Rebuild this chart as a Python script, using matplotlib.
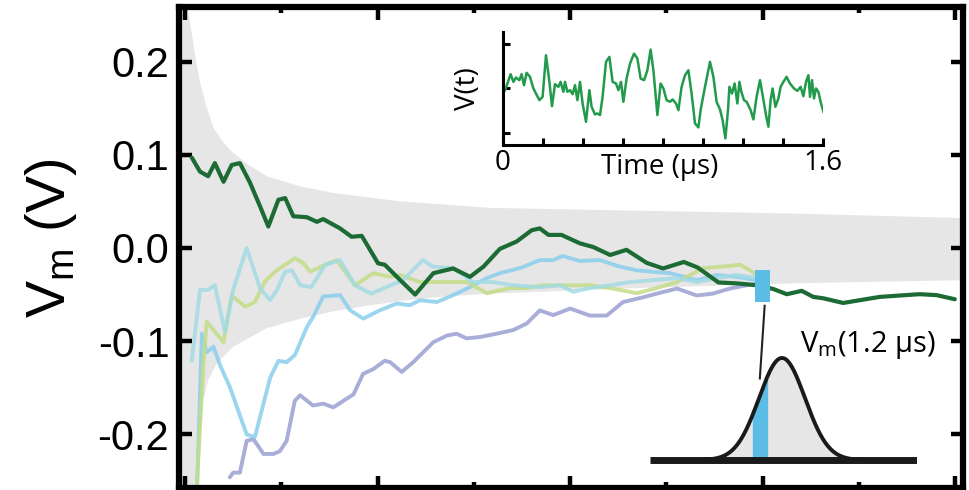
import numpy as np
import matplotlib
matplotlib.use("Agg")
import matplotlib.pyplot as plt
from matplotlib.patches import Rectangle

plt.rcParams['mathtext.fontset'] = 'custom'
plt.rcParams['mathtext.rm'] = 'Liberation Sans'
plt.rcParams['mathtext.sf'] = 'Open Sans'

# ---- running mean V_m(t) of several realisations (time in µs, voltage in V) ----
t_dark = [0.014, 0.031, 0.048, 0.062, 0.080, 0.097, 0.114, 0.135, 0.156, 0.173, 0.194, 0.208,
          0.225, 0.253, 0.274, 0.287, 0.322, 0.346, 0.367, 0.401, 0.415, 0.447, 0.478, 0.516,
          0.557, 0.592, 0.620, 0.654, 0.689, 0.720, 0.737, 0.755, 0.782, 0.820, 0.848, 0.883,
          0.917, 0.959, 0.993, 1.036, 1.065, 1.108, 1.146, 1.188, 1.222, 1.250, 1.281, 1.305,
          1.326, 1.367, 1.402, 1.443, 1.485, 1.526, 1.561, 1.599]
v_dark = [0.097, 0.082, 0.077, 0.091, 0.071, 0.089, 0.091, 0.070, 0.0445, 0.023, 0.0517, 0.0535,
          0.034, 0.033, 0.028, 0.031, 0.021, 0.012, 0.013, -0.0165, -0.018, -0.0345, -0.0500, -0.027,
          -0.022, -0.031, -0.020, -0.001, 0.007, 0.019, 0.021, 0.014, 0.014, 0.005, 0.001, -0.0075,
          -0.002, -0.016, -0.022, -0.015, -0.021, -0.037, -0.038, -0.040, -0.044, -0.0496, -0.046, -0.0525,
          -0.054, -0.059, -0.056, -0.0525, -0.051, -0.0496, -0.0506, -0.055]

t_lime = [0.024, 0.038, 0.045, 0.062, 0.080, 0.097, 0.125, 0.145, 0.166, 0.187, 0.208, 0.229,
          0.246, 0.260, 0.291, 0.315, 0.353, 0.391, 0.426, 0.447, 0.488, 0.550, 0.586, 0.627,
          0.675, 0.710, 0.744, 0.793, 0.841, 0.883, 0.939, 0.980, 1.022, 1.076, 1.117, 1.153,
          1.173, 1.194]
v_lime = [-0.260, -0.126, -0.079, -0.090, -0.101, -0.051, -0.063, -0.058, -0.036, -0.0255, -0.018, -0.011,
          -0.0165, -0.0255, -0.018, -0.013, -0.040, -0.027, -0.031, -0.029, -0.0366, -0.0366, -0.0366, -0.0485,
          -0.043, -0.043, -0.040, -0.040, -0.040, -0.043, -0.0485, -0.043, -0.0366, -0.0216, -0.020, -0.018,
          -0.024, -0.031]

t_teal = [0.014, 0.031, 0.048, 0.062, 0.083, 0.100, 0.128, 0.156, 0.177, 0.191, 0.208, 0.222,
          0.239, 0.262, 0.291, 0.322, 0.353, 0.387, 0.418, 0.453, 0.494, 0.515, 0.557, 0.598,
          0.640, 0.681, 0.737, 0.779, 0.806, 0.841, 0.883, 0.924, 0.972, 1.022, 1.063, 1.105,
          1.146, 1.188]
v_teal = [-0.121, -0.045, -0.045, -0.040, -0.090, -0.045, 0.000, -0.0435, -0.056, -0.045, -0.0255, -0.024,
          -0.040, -0.042, -0.018, -0.013, -0.040, -0.049, -0.042, -0.0345, -0.013, -0.020, -0.0216, -0.0366,
          -0.0366, -0.040, -0.042, -0.040, -0.047, -0.043, -0.040, -0.0366, -0.0345, -0.0323, -0.0366, -0.0323,
          -0.029, -0.0323]

t_sky = [0.025, 0.035, 0.045, 0.059, 0.073, 0.093, 0.128, 0.145, 0.177, 0.194, 0.211, 0.228,
         0.253, 0.266, 0.287, 0.322, 0.343, 0.370, 0.405, 0.440, 0.467, 0.488, 0.523, 0.557,
         0.592, 0.627, 0.654, 0.696, 0.737, 0.764, 0.785, 0.820, 0.862, 0.903, 0.939, 0.980,
         1.007, 1.063, 1.105, 1.146, 1.188]
v_sky = [-0.260, -0.092, -0.112, -0.106, -0.126, -0.149, -0.200, -0.203, -0.139, -0.121, -0.1225, -0.115,
         -0.085, -0.074, -0.052, -0.0506, -0.0668, -0.0758, -0.0668, -0.0596, -0.0614, -0.056, -0.058, -0.0506,
         -0.042, -0.0323, -0.027, -0.0216, -0.013, -0.013, -0.0086, -0.014, -0.013, -0.020, -0.024, -0.026,
         -0.027, -0.0345, -0.029, -0.031, -0.0345]

t_lilac = [0.093, 0.100, 0.114, 0.128, 0.142, 0.163, 0.183, 0.197, 0.211, 0.228, 0.239, 0.266,
           0.287, 0.308, 0.350, 0.370, 0.391, 0.415, 0.426, 0.450, 0.474, 0.516, 0.544, 0.564,
           0.585, 0.613, 0.647, 0.682, 0.710, 0.737, 0.765, 0.800, 0.841, 0.876, 0.910, 0.951,
           0.987, 1.022, 1.063, 1.096, 1.132, 1.167, 1.194]
v_lilac = [-0.246, -0.241, -0.241, -0.207, -0.205, -0.221, -0.221, -0.218, -0.207, -0.164, -0.158, -0.169,
           -0.167, -0.171, -0.157, -0.135, -0.130, -0.121, -0.1225, -0.133, -0.1225, -0.101, -0.094, -0.092,
           -0.097, -0.0955, -0.092, -0.088, -0.081, -0.067, -0.072, -0.065, -0.0725, -0.0725, -0.058, -0.053,
           -0.048, -0.0435, -0.051, -0.049, -0.0435, -0.040, -0.038]

# ---- envelope of the expected spread of the running mean ----
band_up_t = [-0.013, 0.004, 0.007, 0.014, 0.021, 0.031, 0.042, 0.059, 0.080, 0.100, 0.135, 0.170,
             0.239, 0.308, 0.447, 0.633, 0.940, 1.257, 1.620]
band_up_v = [0.270, 0.260, 0.253, 0.231, 0.206, 0.178, 0.156, 0.129, 0.113, 0.102, 0.088, 0.077,
             0.066, 0.059, 0.050, 0.043, 0.040, 0.037, 0.032]
band_lo_t = [-0.013, 0.022, 0.031, 0.038, 0.048, 0.066, 0.100, 0.142, 0.170, 0.239, 0.308, 0.377,
             0.447, 0.516, 0.633, 0.940, 1.256, 1.620]
band_lo_v = [-0.270, -0.260, -0.200, -0.164, -0.142, -0.124, -0.106, -0.094, -0.086, -0.076, -0.068, -0.062,
             -0.057, -0.053, -0.049, -0.043, -0.038, -0.0345]

# sampling instant and window highlighted on the traces
t_sample = 1.2
sample_window = (-0.058, -0.024)

y_ticks = [0.2, 0.1, 0.0, -0.1, -0.2]
y_tick_labels = ['0.2', '0.1', '0.0', '-0.1', '-0.2']
x_major = [0.0, 0.4, 0.8, 1.2, 1.6]
x_minor = [0.2, 0.6, 1.0, 1.4]

# ---- single raw voltage record V(t) ----
t_raw = [0.010, 0.022, 0.038, 0.052, 0.065, 0.082, 0.093, 0.105, 0.118, 0.135, 0.152, 0.182,
         0.198, 0.215, 0.232, 0.245, 0.260, 0.277, 0.288, 0.302, 0.310, 0.322, 0.335, 0.348,
         0.360, 0.372, 0.385, 0.398, 0.415, 0.432, 0.443, 0.460, 0.472, 0.485, 0.498, 0.515,
         0.532, 0.548, 0.565, 0.577, 0.590, 0.602, 0.618, 0.635, 0.655, 0.672, 0.688, 0.705,
         0.722, 0.738, 0.752, 0.772, 0.788, 0.802, 0.818, 0.835, 0.848, 0.865, 0.877, 0.893,
         0.910, 0.927, 0.943, 0.960, 0.977, 0.988, 1.010, 1.035, 1.052, 1.068, 1.085, 1.098,
         1.112, 1.125, 1.132, 1.145, 1.158, 1.172, 1.182, 1.192, 1.205, 1.218, 1.238, 1.252,
         1.268, 1.285, 1.298, 1.315, 1.327, 1.338, 1.348, 1.362, 1.377, 1.388, 1.402, 1.418,
         1.435, 1.455, 1.472, 1.488, 1.502, 1.515, 1.527, 1.535, 1.545, 1.555, 1.565, 1.577,
         1.588, 1.602]
v_raw = [-0.045, 0.105, 0.315, 0.142, 0.240, 0.180, 0.315, 0.067, 0.345, 0.255, -0.007, -0.270,
         -0.195, 0.742, 0.142, -0.404, 0.090, 0.030, 0.142, -0.082, 0.142, -0.082, -0.045, -0.135,
         0.067, -0.270, 0.142, -0.345, -0.757, -0.045, -0.420, -0.592, -0.569, -0.607, -0.195, 0.592,
         0.704, 0.142, 0.105, -0.045, 0.142, -0.307, 0.217, 0.554, 0.779, 0.667, 0.217, 0.180,
         0.404, 0.869, 0.404, -0.607, 0.105, -0.007, -0.270, -0.307, -0.255, -0.345, -0.494, 0.030,
         0.292, 0.404, -0.120, -0.794, -0.884, -0.494, 0.030, 0.592, 0.255, -0.307, -0.479, -0.719,
         -1.131, -0.494, 0.030, -0.120, 0.105, -0.345, 0.142, -0.082, -0.270, -0.307, -0.494, -0.704,
         -0.195, 0.180, -0.157, -0.607, -0.869, -0.270, -0.007, -0.420, -0.232, 0.030, 0.142, 0.255,
         0.105, -0.007, -0.060, 0.030, -0.180, 0.142, 0.292, -0.195, 0.180, -0.232, -0.007, -0.082,
         -0.307, -0.532]
raw_ticks_x = [0.0, 0.2, 0.4, 0.6, 0.8, 1.0, 1.2, 1.4, 1.6]
raw_tick_labels = ['0', '', '', '', '', '', '', '', '1.6']
raw_ticks_y = [-1, 0, 1]

# ---- distribution of V_m at the sampling instant (units of its std) ----
dist_mean, dist_std = 0.0, 1.0
dist_slice = (-1.30, -0.61)

# colours
c_dark = '#1d6b34'
c_lime = '#c3dd86'
c_teal = '#a3dbe4'
c_sky = '#8bceec'
c_lilac = '#a0a5d5'
c_band = '#e6e6e6'
c_mark = '#5bbde5'
c_raw = '#229a4b'

W, H = 970, 490
fig = plt.figure(figsize=(W / 100, H / 100), dpi=100)


def px_box(x0, y0, x1, y1):
    return [x0 / W, 1 - y1 / H, (x1 - x0) / W, (y1 - y0) / H]


ax = fig.add_axes(px_box(179, 7, 963, 488))
ax.set_xlim(-0.0125, 1.616)
ax.set_ylim(-0.2575, 0.2585)

ax.fill(np.r_[band_up_t, band_lo_t[::-1]], np.r_[band_up_v, band_lo_v[::-1]],
        color=c_band, lw=0, zorder=1)

lw_pale = 2.8
ax.plot(t_lilac, v_lilac, color=c_lilac, lw=lw_pale, alpha=0.9, zorder=2, solid_capstyle='round')
ax.plot(t_sky, v_sky, color=c_sky, lw=lw_pale, alpha=0.85, zorder=3, solid_capstyle='round')
ax.plot(t_lime, v_lime, color=c_lime, lw=lw_pale, alpha=0.85, zorder=3, solid_capstyle='round')
ax.plot(t_teal, v_teal, color=c_teal, lw=lw_pale, alpha=0.85, zorder=4, solid_capstyle='round')
ax.plot(t_dark, v_dark, color=c_dark, lw=3.0, zorder=5, solid_capstyle='round')

ax.add_patch(Rectangle((t_sample - 0.016, sample_window[0]), 0.032,
                       sample_window[1] - sample_window[0], color=c_mark, lw=0, zorder=6))
ax.plot([t_sample + 0.004, t_sample - 0.006], [-0.062, -0.140], color='#222222', lw=1.5, zorder=6)

ax.set_yticks(y_ticks)
ax.set_yticklabels(y_tick_labels, fontfamily='Liberation Sans', fontsize=30)
ax.set_xticks(x_major)
ax.set_xticks(x_minor, minor=True)
ax.tick_params(which='both', direction='in', top=True, right=True, labelbottom=False,
               color='black')
ax.tick_params(which='major', length=9, width=3.2, pad=7)
ax.tick_params(which='minor', length=4.5, width=3.2)
for s in ax.spines.values():
    s.set_linewidth(4.5)
    s.set_zorder(10)

fig.text(51 / W, 1 - 238 / H, 'V$_{\\mathrm{m}}$ (V)', rotation=90, ha='center', va='center',
         fontfamily='Liberation Sans', fontsize=40)

# raw record inset
axr = fig.add_axes(px_box(503, 32, 823, 145))
axr.patch.set_alpha(0)
axr.plot(t_raw, v_raw, color=c_raw, lw=1.8)
axr.set_xlim(0, 1.6)
axr.set_ylim(-1.28, 1.265)
for side in ('top', 'right'):
    axr.spines[side].set_visible(False)
for side in ('left', 'bottom'):
    axr.spines[side].set_linewidth(2.2)
axr.set_xticks(raw_ticks_x)
axr.set_xticklabels(raw_tick_labels, fontfamily='Open Sans', fontsize=20)
axr.set_yticks(raw_ticks_y)
axr.set_yticklabels([])
axr.tick_params(direction='in', length=5, width=2.2, pad=3)
axr.set_xlabel('Time (µs)', fontfamily='Open Sans', fontsize=20)
axr.xaxis.set_label_coords(0.49, -0.07, transform=axr.transAxes)
axr.xaxis.label.set_va('top')
axr.set_ylabel('V(t)', fontfamily='Open Sans', fontsize=20, labelpad=12)

# distribution sketch
axd = fig.add_axes(px_box(650, 340, 917, 470))
axd.set_xlim(-5.74, 5.87)
axd.set_ylim(-0.098, 1.176)
axd.axis('off')
xs = np.linspace(dist_mean - 3.6 * dist_std, dist_mean + 3.6 * dist_std, 400)
ys = np.exp(-0.5 * ((xs - dist_mean) / dist_std) ** 2)
axd.fill_between(xs, 0, ys, color=c_band, lw=0, zorder=1)
sel = (xs >= dist_slice[0]) & (xs <= dist_slice[1])
axd.fill_between(xs[sel], 0, ys[sel], color=c_mark, lw=0, zorder=2)
axd.plot(xs, ys, color='#1a1a1a', lw=2.8, zorder=3)
axd.plot([-5.74, 5.87], [0, 0], color='#1a1a1a', lw=5, zorder=4, solid_capstyle='butt')

ax.text(1.277, -0.112, 'V$_{\\mathsf{m}}$(1.2 µs)', fontfamily='Open Sans', fontsize=21,
        ha='left', va='baseline', zorder=7)

fig.savefig('out.png', dpi=100)
